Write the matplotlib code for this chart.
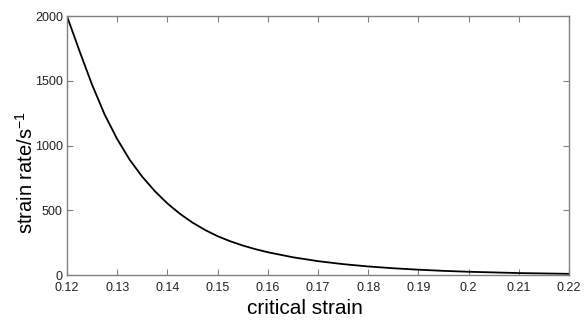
import matplotlib
matplotlib.use("Agg")
import matplotlib.pyplot as plt

# values
critical_strain = [0.12, 0.1225, 0.125, 0.1275, 0.13, 0.1325, 0.135, 0.1375, 0.14,
                   0.1425, 0.145, 0.1475, 0.15, 0.1525, 0.155, 0.1575, 0.16,
                   0.165, 0.17, 0.175, 0.18, 0.185, 0.19, 0.195, 0.2, 0.205,
                   0.21, 0.215, 0.22]
strain_rate = [2000, 1730, 1470, 1240, 1050, 890, 759, 648, 553,
               473, 405, 348, 300, 261, 228, 200, 176,
               137, 107, 84, 66, 52, 41, 32, 25, 20,
               15, 12, 9]

x_ticks = [0.12, 0.13, 0.14, 0.15, 0.16, 0.17, 0.18, 0.19, 0.2, 0.21, 0.22]
x_tick_labels = ['0.12', '0.13', '0.14', '0.15', '0.16', '0.17', '0.18', '0.19', '0.2', '0.21', '0.22']
y_ticks = [0, 500, 1000, 1500, 2000]

plt.rcParams['font.family'] = ['Liberation Sans', 'DejaVu Sans']

fig = plt.figure(figsize=(5.86, 3.23), dpi=100)
ax = fig.add_axes([0.1143, 0.1486, 0.8567, 0.8014])

ax.plot(critical_strain, strain_rate, color='black', linewidth=1.3)

ax.set_xlim(0.12, 0.22)
ax.set_ylim(0, 2000)
ax.set_xticks(x_ticks)
ax.set_xticklabels(x_tick_labels)
ax.set_yticks(y_ticks)

ax.tick_params(direction='in', length=4, width=0.8, color='#808080',
               top=True, right=True, labelsize=9, labelcolor='#222222')
ax.tick_params(axis='x', pad=5)
ax.tick_params(axis='y', pad=3)
for s in ax.spines.values():
    s.set_color('#808080')
    s.set_linewidth(1.0)

ax.set_xlabel('critical strain', fontsize=15)
ax.set_ylabel('strain rate/s$^{\\mathregular{-1}}$', fontsize=14.5)
ax.xaxis.set_label_coords(0.474, -0.093)
ax.yaxis.set_label_coords(-0.06, 0.395)

fig.savefig('out.png', dpi=100)
